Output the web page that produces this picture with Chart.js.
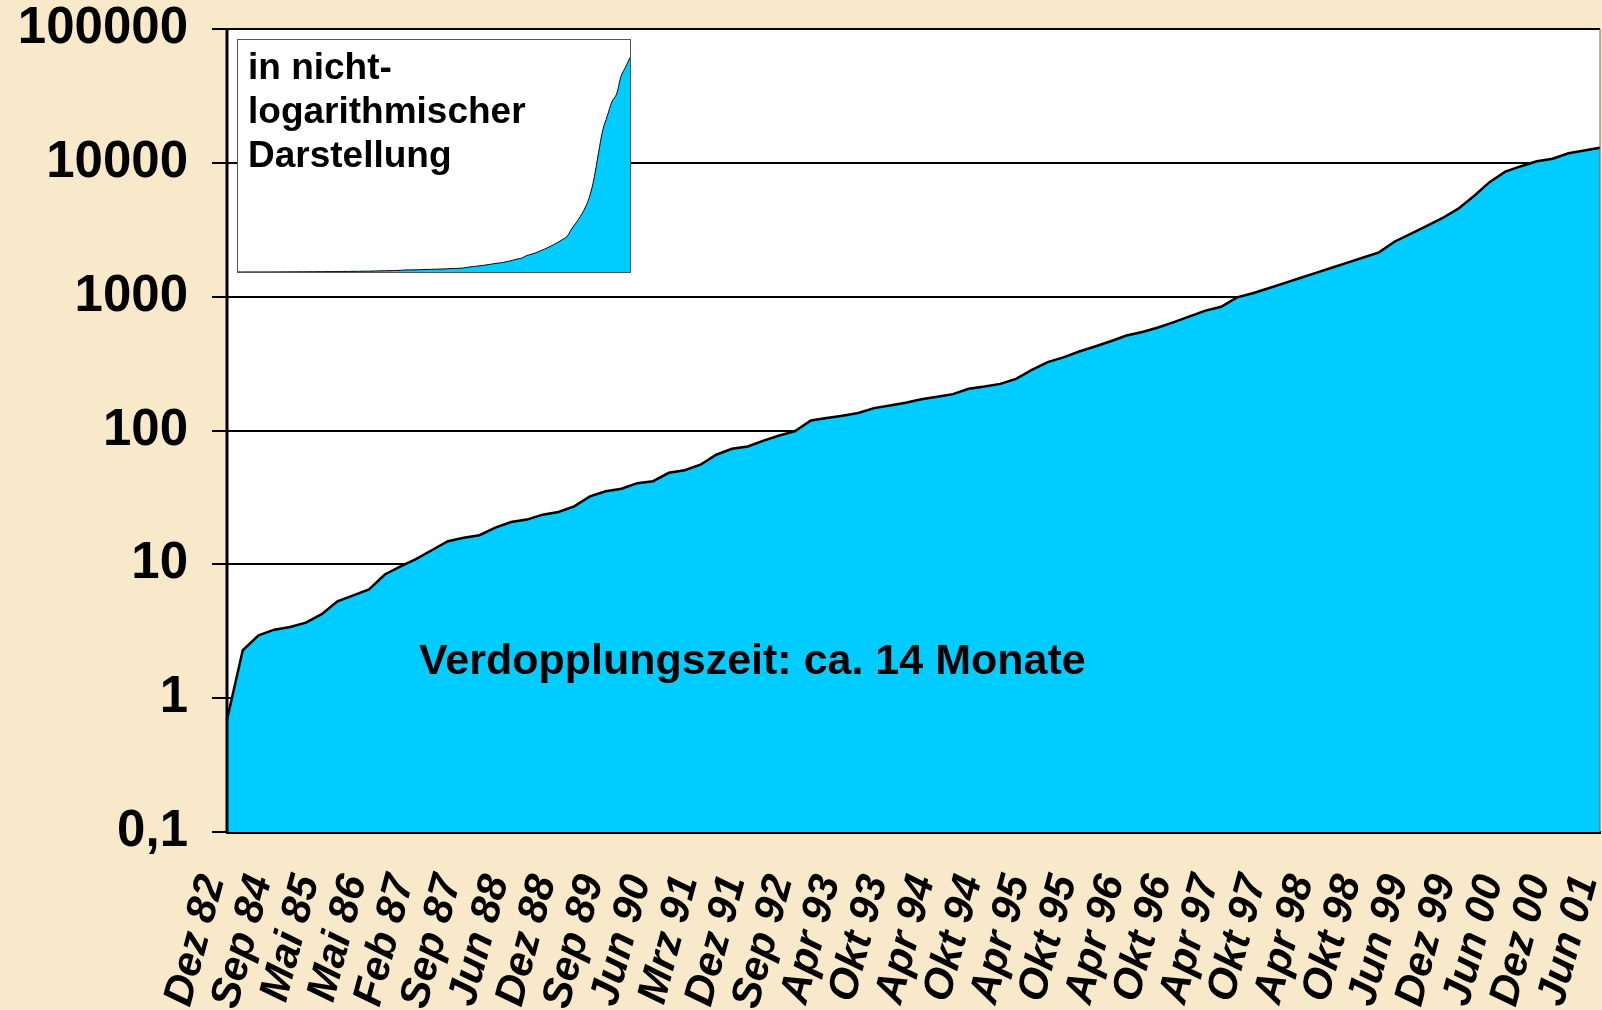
<!DOCTYPE html>
<html>
<head>
<meta charset="utf-8">
<script src="https://cdn.jsdelivr.net/npm/chart.js@4.4.0/dist/chart.umd.min.js"></script>
<style>
    body { margin: 0; background: #f8e9ca; font-family: "Liberation Sans", Arial, sans-serif; }
    #wrap { position: relative; width: 1602px; height: 1010px; overflow: hidden; }
    #mainChart { position: absolute; left: 0; top: 0; }
    #inset { position: absolute; left: 237px; top: 39px; width: 392px; height: 232px; border: 1px solid #555; background: #fff; }
    .note { position: absolute; font-weight: bold; color: #000; white-space: nowrap; }
</style>
</head>
<body>
<div id="wrap">
    <canvas id="mainChart" width="1602" height="1010"></canvas>
    <div id="inset"><canvas id="insetChart" width="392" height="232"></canvas></div>
    <div class="note" style="left:248px; top:45px; font-size:37px; line-height:44px;">in nicht-<br>logarithmischer<br>Darstellung</div>
    <div class="note" style="left:419px; top:638px; font-size:43px; line-height:43px;">Verdopplungszeit: ca. 14 Monate</div>
</div>
<script>
// every third data point gets a label
const tickLabels = ['Dez 82', 'Sep 84', 'Mai 85', 'Mai 86', 'Feb 87', 'Sep 87', 'Jun 88', 'Dez 88',
    'Sep 89', 'Jun 90', 'Mrz 91', 'Dez 91', 'Sep 92', 'Apr 93', 'Okt 93', 'Apr 94', 'Okt 94',
    'Apr 95', 'Okt 95', 'Apr 96', 'Okt 96', 'Apr 97', 'Okt 97', 'Apr 98', 'Okt 98', 'Jun 99',
    'Dez 99', 'Jun 00', 'Dez 00', 'Jun 01'];

const values = [0.69, 2.28, 2.95, 3.25, 3.4, 3.67, 4.24, 5.3, 5.87, 6.5,
    8.4, 9.66, 11.0, 12.8, 14.9, 15.8, 16.5, 18.8, 20.7, 21.6,
    23.5, 24.6, 27.1, 32.2, 35.2, 36.7, 40.4, 41.8, 48.3, 50.5,
    55.5, 65.9, 73, 76, 84, 91.8, 98.9, 119, 124, 129,
    135, 147, 154, 161, 171, 179, 187, 205, 213, 223,
    243, 284, 324, 352, 389, 424, 464, 512, 545, 589,
    646, 713, 787, 841, 988, 1060, 1156, 1262, 1378, 1506,
    1644, 1795, 1960, 2142, 2584, 2950, 3365, 3857, 4530, 5630,
    7170, 8600, 9440, 10280, 10720, 11800, 12360, 12940];

const yTicks = [0.1, 1, 10, 100, 1000, 10000, 100000];
const yTickLabels = ['0,1', '1', '10', '100', '1000', '10000', '100000'];

const categories = values.map((v, i) => (i % 3 === 0 ? tickLabels[i / 3] : ''));

Chart.defaults.font.family = '"Liberation Sans", Arial, sans-serif';
Chart.defaults.color = '#000';

const plotArea = {
    id: 'plotArea',
    beforeDraw(chart) {
        const { ctx, chartArea: a } = chart;
        ctx.save();
        ctx.fillStyle = '#fff';
        ctx.fillRect(a.left, a.top, a.right - a.left, a.bottom - a.top);
        ctx.restore();
    },
    afterDatasetsDraw(chart) {
        const { ctx, chartArea: a } = chart;
        ctx.save();
        ctx.strokeStyle = '#000';
        ctx.lineWidth = 3;
        ctx.beginPath();
        ctx.moveTo(a.left, a.top);
        ctx.lineTo(a.left, a.bottom);
        ctx.stroke();
        ctx.strokeStyle = '#666';
        ctx.lineWidth = 1;
        ctx.beginPath();
        ctx.moveTo(a.right, a.top);
        ctx.lineTo(a.right, a.bottom);
        ctx.stroke();
        ctx.restore();
    }
};

new Chart(document.getElementById('mainChart'), {
    type: 'line',
    data: {
        labels: categories,
        datasets: [{
            data: values,
            borderColor: '#000',
            borderWidth: 2.5,
            backgroundColor: '#00ccff',
            fill: 'start',
            pointRadius: 0,
            tension: 0
        }]
    },
    options: {
        responsive: false,
        animation: false,
        layout: { padding: { top: 29, right: 2, left: 0, bottom: 0 } },
        plugins: { legend: { display: false }, tooltip: { enabled: false } },
        scales: {
            x: {
                z: 1,
                grid: { display: false, drawTicks: false },
                border: { color: '#000', width: 3 },
                ticks: {
                    autoSkip: false,
                    minRotation: 75,
                    maxRotation: 75,
                    padding: 38,
                    labelOffset: -14,
                    font: { size: 42, weight: 'bold', style: 'italic' }
                },
                afterFit: function (scale) {
                    scale.height = 178;
                    scale.paddingLeft = 0;
                    scale.paddingRight = 0;
                }
            },
            y: {
                type: 'logarithmic',
                min: 0.1,
                max: 100000,
                grid: { color: '#000', lineWidth: 2, tickLength: 15, tickColor: '#000' },
                border: { display: false },
                ticks: {
                    padding: 24,
                    font: { size: 51, weight: 'bold' },
                    callback: function (v) {
                        const k = yTicks.indexOf(v);
                        return k >= 0 ? yTickLabels[k] : '';
                    }
                },
                afterBuildTicks: function (scale) {
                    scale.ticks = yTicks.map(v => ({ value: v }));
                },
                afterFit: function (scale) {
                    scale.width = 227;
                    scale.paddingTop = 0;
                    scale.paddingBottom = 0;
                }
            }
        }
    },
    plugins: [plotArea]
});

new Chart(document.getElementById('insetChart'), {
    type: 'line',
    data: {
        labels: categories,
        datasets: [{
            data: values,
            borderColor: '#000',
            borderWidth: 1,
            backgroundColor: '#00ccff',
            fill: 'start',
            pointRadius: 0,
            tension: 0.4
        }]
    },
    options: {
        responsive: false,
        animation: false,
        layout: { padding: 0 },
        plugins: { legend: { display: false }, tooltip: { enabled: false } },
        scales: {
            x: { display: false },
            y: { display: false, min: 0, max: 14000 }
        }
    }
});
</script>
</body>
</html>
